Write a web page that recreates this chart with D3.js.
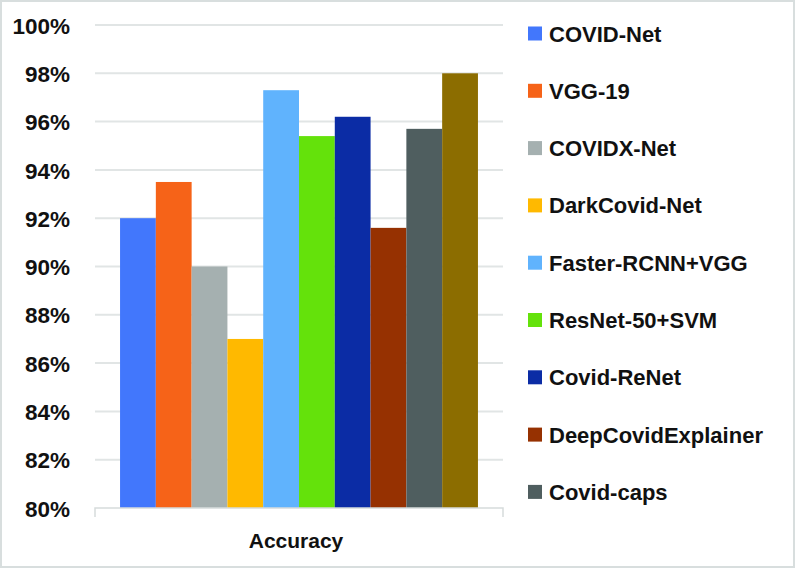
<!DOCTYPE html>
<html>
<head>
<meta charset="utf-8">
<script src="https://cdn.jsdelivr.net/npm/d3@7"></script>
<style>
  body { margin: 0; background: #fff; }
  svg text { font-family: "Liberation Sans", Arial, sans-serif; font-weight: bold; fill: #111; }
</style>
</head>
<body>
<svg id="svg"></svg>
<script>
// Chart data
const models = ["COVID-Net", "VGG-19", "COVIDX-Net", "DarkCovid-Net", "Faster-RCNN+VGG",
    "ResNet-50+SVM", "Covid-ReNet", "DeepCovidExplainer", "Covid-caps", "(10th model)"];
const accuracy = [92, 93.5, 90, 87, 97.3, 95.4, 96.2, 91.6, 95.7, 98];
const colors = ["#4277fc", "#f66318", "#a5b0b0", "#ffb900", "#60b3fd",
    "#64e20b", "#0b2ca5", "#963101", "#4f5e5f", "#8c6d00"];
// legend in the picture only lists the first nine
const legendCount = 9;
const groups = ["Accuracy"];
const yTicks = [80, 82, 84, 86, 88, 90, 92, 94, 96, 98, 100];

let width = 796, height = 569;

const svg = d3.select("#svg")
    .attr("width", width)
    .attr("height", height);

// outer border
svg.append("rect")
    .attr("x", 1).attr("y", 1)
    .attr("width", width - 3).attr("height", height - 3)
    .attr("fill", "none")
    .attr("stroke", "#d8dede")
    .attr("stroke-width", 2);

const plotLeft = 95, plotRight = 503, plotTop = 25, plotBottom = 508;

const y = d3.scaleLinear().domain([80, 100]).range([plotBottom, plotTop]);
const x0 = d3.scaleBand().domain(groups).range([plotLeft, plotRight]);
const x1 = d3.scaleBand().domain(models)
    .range([0, x0.bandwidth()])
    .paddingInner(0)
    .paddingOuter(0.7);

// gridlines
svg.append("g")
    .selectAll("line")
    .data(yTicks.slice(1))
    .enter()
    .append("line")
    .attr("x1", plotLeft).attr("x2", plotRight)
    .attr("y1", d => y(d)).attr("y2", d => y(d))
    .attr("stroke", "#e1e5e5")
    .attr("stroke-width", 2);

// y axis labels
const yAxis = d3.axisLeft(y)
    .tickValues(yTicks)
    .tickSize(0)
    .tickPadding(25)
    .tickFormat(d => d + "%");

const yG = svg.append("g")
    .attr("transform", "translate(" + plotLeft + ",0)")
    .call(yAxis);
yG.select(".domain").remove();
yG.selectAll("text")
    .style("font-size", "22.5px")
    .attr("dy", "0.36em")
    .attr("fill", "#111");

// bars
const group = svg.append("g")
    .selectAll("g")
    .data(groups)
    .enter()
    .append("g")
    .attr("transform", g => "translate(" + x0(g) + ",0)");

group.selectAll("rect")
    .data(models.map((m, i) => ({ name: m, value: accuracy[i], color: colors[i] })))
    .enter()
    .append("rect")
    .attr("x", d => x1(d.name))
    .attr("y", d => y(d.value))
    .attr("width", x1.bandwidth())
    .attr("height", d => y(80) - y(d.value))
    .attr("fill", d => d.color);

// x axis line with end ticks
const xAxis = d3.axisBottom(x0).tickSize(0).tickFormat("");
const xG = svg.append("g")
    .attr("transform", "translate(0," + plotBottom + ")")
    .call(xAxis);
xG.select(".domain").remove();
xG.append("path")
    .attr("d", "M" + plotLeft + ",9V0H" + plotRight + "V9")
    .attr("fill", "none")
    .attr("stroke", "#d6dbdb")
    .attr("stroke-width", 1.5);

svg.append("text")
    .attr("x", x0("Accuracy") + x0.bandwidth() / 2 - 3)
    .attr("y", 548)
    .attr("text-anchor", "middle")
    .style("font-size", "21px")
    .text("Accuracy");

// legend
const legend = svg.append("g")
    .selectAll("g")
    .data(models.slice(0, legendCount))
    .enter()
    .append("g")
    .attr("transform", (d, i) => "translate(528," + (33.5 + i * 57.3) + ")");

legend.append("rect")
    .attr("x", 0).attr("y", -7)
    .attr("width", 14).attr("height", 14)
    .attr("fill", (d, i) => colors[i]);

legend.append("text")
    .attr("x", 21)
    .attr("y", 8)
    .style("font-size", "22px")
    .text(d => d);
</script>
</body>
</html>
